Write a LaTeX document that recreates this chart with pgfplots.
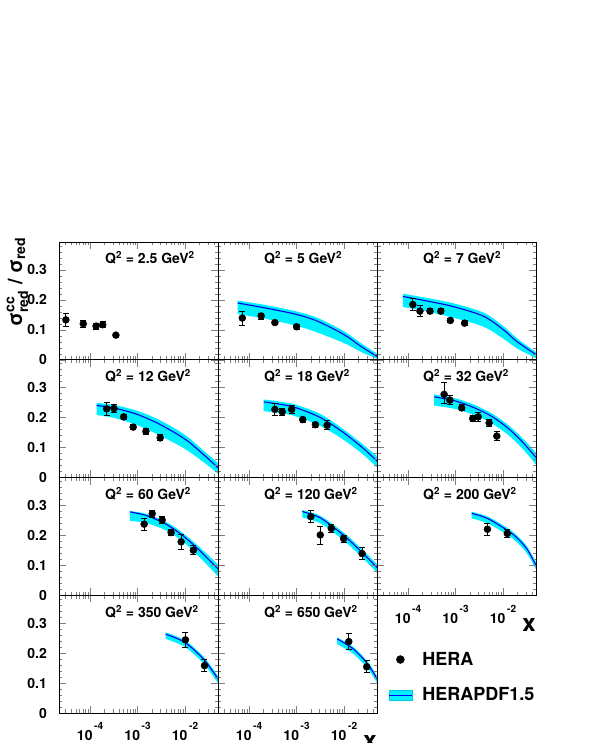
\documentclass[border=0pt]{standalone}
\usepackage{fontspec}
\setmainfont{TeX Gyre Heros}
\usepackage{amsmath}
\usepackage{pgfplots}
\usepackage{pgfplotstable}
\pgfplotsset{compat=1.18}
\usepgfplotslibrary{fillbetween}

\definecolor{bandc}{RGB}{0,240,255}
\definecolor{bandedge}{RGB}{0,200,230}
\definecolor{cline}{RGB}{0,0,235}

\newcommand\ff[1]{\fontsize{#1}{#1}\selectfont\bfseries}
\newcommand\tlab[1]{10\raisebox{11pt}{\fontsize{10}{10}\selectfont\bfseries\,#1}}

% data points: x, ratio, error up, error down
\pgfplotstableread{
x y ep em
3.1e-5 0.133 0.022 0.022
7.2e-5 0.120 0.012 0.012
1.34e-4 0.112 0.010 0.010
1.85e-4 0.117 0.010 0.010
3.5e-4 0.082 0.006 0.006
}\datA
\pgfplotstableread{
x y ep em
7.2e-5 0.139 0.023 0.023
1.8e-4 0.146 0.010 0.010
3.5e-4 0.124 0.006 0.006
1.0e-3 0.110 0.008 0.008
}\datB
\pgfplotstableread{
x y ep em
1.26e-4 0.184 0.020 0.020
1.78e-4 0.162 0.018 0.018
2.9e-4 0.162 0.008 0.008
4.9e-4 0.162 0.008 0.008
7.8e-4 0.131 0.008 0.008
1.55e-3 0.122 0.008 0.008
}\datC
\pgfplotstableread{
x y ep em
2.24e-4 0.229 0.022 0.022
3.2e-4 0.230 0.012 0.012
5.1e-4 0.202 0.008 0.008
8.1e-4 0.168 0.008 0.008
1.5e-3 0.154 0.010 0.010
3.0e-3 0.132 0.010 0.010
}\datD
\pgfplotstableread{
x y ep em
3.5e-4 0.227 0.020 0.020
5.0e-4 0.219 0.012 0.012
7.9e-4 0.227 0.012 0.012
1.35e-3 0.193 0.008 0.008
2.5e-3 0.176 0.008 0.008
4.4e-3 0.174 0.015 0.015
}\datE
\pgfplotstableread{
x y ep em
5.75e-4 0.277 0.040 0.030
7.6e-4 0.258 0.015 0.015
1.35e-3 0.232 0.010 0.010
2.3e-3 0.197 0.010 0.010
3.0e-3 0.202 0.015 0.015
5.1e-3 0.182 0.012 0.012
7.4e-3 0.138 0.015 0.015
}\datF
\pgfplotstableread{
x y ep em
1.38e-3 0.237 0.020 0.020
2.04e-3 0.272 0.012 0.012
3.3e-3 0.251 0.012 0.012
5.1e-3 0.209 0.010 0.010
8.3e-3 0.178 0.025 0.025
1.5e-2 0.150 0.015 0.015
}\datG
\pgfplotstableread{
x y ep em
2.0e-3 0.262 0.020 0.020
3.16e-3 0.201 0.030 0.030
5.4e-3 0.223 0.012 0.012
9.8e-3 0.189 0.012 0.012
2.4e-2 0.139 0.020 0.020
}\datH
\pgfplotstableread{
x y ep em
4.7e-3 0.220 0.020 0.020
1.23e-2 0.206 0.013 0.013
}\datI
\pgfplotstableread{
x y ep em
1.02e-2 0.244 0.025 0.025
2.57e-2 0.158 0.020 0.020
}\datJ
\pgfplotstableread{
x y ep em
1.26e-2 0.238 0.027 0.027
3.0e-2 0.154 0.020 0.020
}\datK

% HERAPDF1.5 bands: x, central, lower, upper
\pgfplotstableread{
x c lo hi
5.75e-5 0.189 0.152 0.197
2.14e-4 0.173 0.137 0.183
1.0e-3 0.151 0.113 0.161
2.82e-3 0.128 0.090 0.139
1.02e-2 0.083 0.055 0.094
2.29e-2 0.044 0.026 0.055
5.0e-2 0.011 0.003 0.020
}\bndB
\pgfplotstableread{
x c lo hi
7.76e-5 0.211 0.176 0.220
2.14e-4 0.198 0.163 0.208
9.1e-4 0.177 0.140 0.188
3.9e-3 0.145 0.110 0.157
1.02e-2 0.100 0.070 0.112
1.95e-2 0.061 0.038 0.072
5.0e-2 0.017 0.005 0.025
}\bndC
\pgfplotstableread{
x c lo hi
1.38e-4 0.240 0.208 0.249
3.16e-4 0.232 0.199 0.242
1.0e-3 0.210 0.174 0.222
2.95e-3 0.177 0.140 0.191
1.0e-2 0.128 0.095 0.142
2.51e-2 0.075 0.050 0.088
5.0e-2 0.032 0.012 0.048
}\bndD
\pgfplotstableread{
x c lo hi
2.04e-4 0.252 0.221 0.260
5.0e-4 0.243 0.214 0.252
1.0e-3 0.232 0.203 0.242
3.16e-3 0.200 0.172 0.212
9.3e-3 0.152 0.128 0.163
2.51e-2 0.098 0.077 0.110
5.0e-2 0.054 0.032 0.070
}\bndE
\pgfplotstableread{
x c lo hi
3.55e-4 0.269 0.240 0.277
1.0e-3 0.255 0.228 0.264
2.51e-3 0.232 0.208 0.242
5.75e-3 0.204 0.181 0.214
1.26e-2 0.165 0.143 0.176
2.51e-2 0.120 0.098 0.133
5.0e-2 0.066 0.042 0.082
}\bndF
\pgfplotstableread{
x c lo hi
6.9e-4 0.278 0.248 0.281
1.58e-3 0.265 0.240 0.271
3.98e-3 0.237 0.216 0.245
9.1e-3 0.198 0.178 0.207
2.0e-2 0.150 0.128 0.161
5.0e-2 0.087 0.062 0.102
}\bndG
\pgfplotstableread{
x c lo hi
1.32e-3 0.279 0.259 0.284
3.16e-3 0.258 0.240 0.265
9.3e-3 0.203 0.186 0.212
2.0e-2 0.155 0.138 0.165
5.0e-2 0.092 0.075 0.103
}\bndH
\pgfplotstableread{
x c lo hi
2.19e-3 0.273 0.256 0.278
5.0e-3 0.254 0.238 0.261
1.62e-2 0.203 0.188 0.211
3.16e-2 0.155 0.140 0.164
5.0e-2 0.098 0.085 0.108
}\bndI
\pgfplotstableread{
x c lo hi
3.9e-3 0.263 0.247 0.269
1.0e-2 0.235 0.220 0.242
2.51e-2 0.178 0.163 0.186
5.0e-2 0.113 0.098 0.122
}\bndJ
\pgfplotstableread{
x c lo hi
7.2e-3 0.247 0.230 0.252
1.58e-2 0.213 0.197 0.220
3.16e-2 0.163 0.148 0.171
5.0e-2 0.113 0.099 0.122
}\bndK

\newcommand\band[1]{%
  \addplot[name path=hi, draw=none, smooth, forget plot] table[x=x,y=hi]{#1};
  \addplot[name path=lo, draw=none, smooth, forget plot] table[x=x,y=lo]{#1};
  \addplot[fill=bandc, draw=none, forget plot] fill between[of=hi and lo];
  \addplot[cline, line width=1.1pt, smooth, forget plot] table[x=x,y=c]{#1};
}
\newcommand\pts[1]{%
  \addplot[only marks, mark=*, mark size=3.5pt, black, forget plot,
    error bars/.cd, y dir=both, y explicit,
    error bar style={black, line width=0.8pt},
    error mark options={rotate=90, black, mark size=3pt, line width=0.8pt}]
    table[x=x, y=y, y error plus=ep, y error minus=em]{#1};
}
\newcommand\qq[1]{%
  \node[anchor=base west, inner sep=0pt, xshift=46pt, yshift=-22pt, font=\ff{14}]
    at (rel axis cs:0,1) {Q\textsuperscript{2} = #1 GeV\textsuperscript{2}};
}

\pgfplotsset{
  every axis/.append style={
    xmode=log, scale only axis, width=159pt, height=117.75pt,
    xmin=2.22e-5, xmax=0.0495, ymin=0, ymax=0.3925,
    xtick={1e-4,1e-3,1e-2},
    minor xtick={3e-5,4e-5,5e-5,6e-5,7e-5,8e-5,9e-5,
      2e-4,3e-4,4e-4,5e-4,6e-4,7e-4,8e-4,9e-4,
      2e-3,3e-3,4e-3,5e-3,6e-3,7e-3,8e-3,9e-3,
      2e-2,3e-2,4e-2},
    ytick={0,0.1,0.2,0.3},
    minor ytick={0.02,0.04,0.06,0.08,0.12,0.14,0.16,0.18,
      0.22,0.24,0.26,0.28,0.32,0.34,0.36,0.38},
    tick align=inside, tick pos=both,
    major tick length=7pt, minor tick length=3.5pt,
    axis line style={black, line width=0.6pt},
    xticklabel style={anchor=north, inner sep=0pt, yshift=-9.5pt, font=\ff{14}},
    yticklabel style={anchor=east, inner sep=0pt, xshift=-12pt, font=\ff{14}},
    xlabel style={at={(rel axis cs:1,0)}, anchor=east, inner sep=0pt,
      yshift=-29.5pt, font=\ff{24}},
    axis on top,
  },
}

\begin{document}
\begin{tikzpicture}

% row 1
\begin{axis}[at={(59pt,383.25pt)}, anchor=south west,
    xticklabels={}, yticklabels={0,0.1,0.2,0.3}]
  \pts{\datA}
  \qq{2.5}
\end{axis}
\begin{axis}[at={(218pt,383.25pt)}, anchor=south west,
    xticklabels={}, yticklabels={}]
  \band{\bndB}
  \pts{\datB}
  \qq{5}
\end{axis}
\begin{axis}[at={(377pt,383.25pt)}, anchor=south west,
    xticklabels={}, yticklabels={}]
  \band{\bndC}
  \pts{\datC}
  \qq{7}
\end{axis}

% row 2
\begin{axis}[at={(59pt,265.5pt)}, anchor=south west,
    xticklabels={}, yticklabels={0,0.1,0.2,0.3}]
  \band{\bndD}
  \pts{\datD}
  \qq{12}
\end{axis}
\begin{axis}[at={(218pt,265.5pt)}, anchor=south west,
    xticklabels={}, yticklabels={}]
  \band{\bndE}
  \pts{\datE}
  \qq{18}
\end{axis}
\begin{axis}[at={(377pt,265.5pt)}, anchor=south west,
    xticklabels={}, yticklabels={}]
  \band{\bndF}
  \pts{\datF}
  \qq{32}
\end{axis}

% row 3
\begin{axis}[at={(59pt,147.75pt)}, anchor=south west,
    xticklabels={}, yticklabels={0,0.1,0.2,0.3}]
  \band{\bndG}
  \pts{\datG}
  \qq{60}
\end{axis}
\begin{axis}[at={(218pt,147.75pt)}, anchor=south west,
    xticklabels={}, yticklabels={}]
  \band{\bndH}
  \pts{\datH}
  \qq{120}
\end{axis}
\begin{axis}[at={(377pt,147.75pt)}, anchor=south west,
    xticklabels={\tlab{-4},\tlab{-3},\tlab{-2}}, yticklabels={}, xlabel={x}]
  \band{\bndI}
  \pts{\datI}
  \qq{200}
\end{axis}

% row 4
\begin{axis}[at={(59pt,30pt)}, anchor=south west,
    xticklabels={\tlab{-4},\tlab{-3},\tlab{-2}}, yticklabels={0,0.1,0.2,0.3}]
  \band{\bndJ}
  \pts{\datJ}
  \qq{350}
\end{axis}
\begin{axis}[at={(218pt,30pt)}, anchor=south west,
    xticklabels={\tlab{-4},\tlab{-3},\tlab{-2}}, yticklabels={}, xlabel={x},
    legend style={draw=none, fill=none, at={(axis description cs:1.07,0.535)},
      anchor=north west, font=\ff{18}, row sep=17pt, inner sep=0pt,
      /tikz/every odd column/.append style={column sep=8pt}},
    legend cell align=left]
  \band{\bndK}
  \pts{\datK}
  \qq{650}
  \addlegendimage{legend image code/.code={\fill[black] (11.5pt,0pt) circle (4pt);}}
  \addlegendentry{HERA}
  \addlegendimage{legend image code/.code={%
      \fill[bandc] (0pt,-5pt) rectangle (23pt,5pt);
      \draw[bandedge] (0pt,-5pt) rectangle (23pt,5pt);
      \draw[cline, line width=1.1pt] (0pt,0pt) -- (23pt,0pt);}}
  \addlegendentry{HERAPDF1.5}
\end{axis}

\node[rotate=90, anchor=base east, inner sep=0pt, font=\ff{20}] at (22pt,506pt)
  {σ$^{\text{cc}}_{\text{red}}$ / σ$_{\text{red}}$};

\pgfresetboundingbox
\path[use as bounding box] (0,0) rectangle (592pt,743pt);
\end{tikzpicture}
\end{document}
